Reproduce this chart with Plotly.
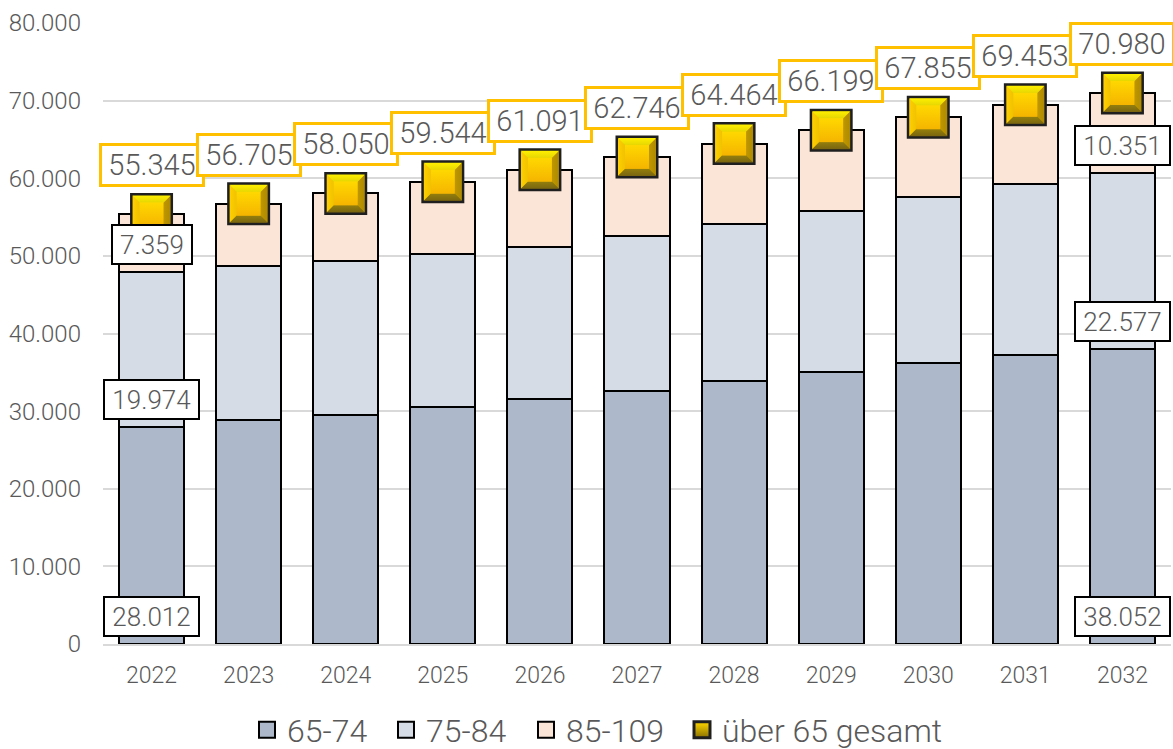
import plotly.graph_objects as go

years = ["2022", "2023", "2024", "2025", "2026", "2027", "2028", "2029", "2030", "2031", "2032"]
age_65_74 = [28012, 28900, 29550, 30530, 31560, 32650, 33900, 35050, 36190, 37240, 38052]
age_75_84 = [19974, 19800, 19790, 19710, 19580, 19910, 20200, 20730, 21410, 22020, 22577]
age_85_109 = [7359, 8005, 8710, 9304, 9951, 10186, 10364, 10419, 10255, 10193, 10351]
total = [55345, 56705, 58050, 59544, 61091, 62746, 64464, 66199, 67855, 69453, 70980]
y_ticks = [0, 10000, 20000, 30000, 40000, 50000, 60000, 70000, 80000]

series = [
    ("65-74", age_65_74, "#adb9ca"),
    ("75-84", age_75_84, "#d6dce5"),
    ("85-109", age_85_109, "#fbe5d6"),
]
TEXT = "#595959"
FONT = "Roboto"


def fmt(v):
    return f"{v:,}".replace(",", ".")


def legend_at(left):
    # one legend per entry, the gaps in the original are tighter than plotly's
    return dict(orientation="h", xref="container", yref="container", x=left / 1173, xanchor="left",
                y=19 / 749, yanchor="middle",
                font=dict(family=FONT, size=32, color=TEXT, weight=300),
                bgcolor="rgba(0,0,0,0)")


fig = go.Figure()

for name, values, color in series:
    fig.add_trace(go.Bar(x=years, y=values, name=name, showlegend=False,
                         marker=dict(color=color, line=dict(color="black", width=2))))

# legend swatches, bar swatches are too small otherwise
for (name, values, color), leg in zip(series, ["legend", "legend2", "legend3"]):
    fig.add_trace(go.Scatter(x=[None], y=[None], mode="markers", name=name, legend=leg,
                             marker=dict(symbol="square", size=16, color=color,
                                         line=dict(color="black", width=2))))

# bevelled gold square, built from stacked markers
fig.add_trace(go.Scatter(x=years, y=total, mode="markers", name="über 65 gesamt", legend="legend4",
                         marker=dict(symbol="square", size=40, color="#ffd800",
                                     gradient=dict(type="vertical", color="#8a7000"),
                                     line=dict(color="#1f1f1f", width=3))))
fig.add_trace(go.Scatter(x=years, y=total, mode="markers", showlegend=False,
                         marker=dict(symbol="bowtie", size=38, color="#ffcf00",
                                     gradient=dict(type="horizontal", color="#b08a00"), line=dict(width=0))))
fig.add_trace(go.Scatter(x=years, y=total, mode="markers", showlegend=False,
                         marker=dict(symbol="hourglass", size=38, color="#fff000",
                                     gradient=dict(type="vertical", color="#7a6510"), line=dict(width=0))))
fig.add_trace(go.Scatter(x=years, y=total, mode="markers", showlegend=False,
                         marker=dict(symbol="square", size=24, color="#ffd800",
                                     gradient=dict(type="vertical", color="#f5b400"), line=dict(width=0))))

# boxed value labels, category axis annotations go by index
for values, bases in [(age_65_74, [0] * 11), (age_75_84, age_65_74),
                      (age_85_109, [a + b for a, b in zip(age_65_74, age_75_84)])]:
    for i in (0, 10):
        fig.add_annotation(x=i, y=bases[i], text=fmt(values[i]), showarrow=False,
                           yanchor="bottom", yshift=7, width=93 if values[i] >= 10000 else 78, height=37,
                           bgcolor="white", bordercolor="black", borderwidth=2, borderpad=0,
                           font=dict(family=FONT, size=26, color=TEXT, weight=300))

for i, v in enumerate(total):
    fig.add_annotation(x=i, y=v, text=fmt(v), showarrow=False,
                       yanchor="bottom", yshift=27, width=100, height=38,
                       bgcolor="white", bordercolor="#ffc000", borderwidth=3, borderpad=0,
                       font=dict(family=FONT, size=29, color=TEXT, weight=300))

fig.update_layout(
    width=1173, height=749,
    barmode="stack", bargap=0.33,
    separators=",.",
    plot_bgcolor="white", paper_bgcolor="white",
    margin=dict(l=102.5, r=1.5, t=23, b=105),
    font=dict(family=FONT, color=TEXT, weight=300),
    legend=legend_at(247),
    legend2=legend_at(386),
    legend3=legend_at(526),
    legend4=legend_at(682),
)
fig.update_xaxes(type="category", categoryorder="array", categoryarray=years, range=[-0.5, 10.5],
                 showline=True, linecolor="#d9d9d9", linewidth=2, showgrid=False,
                 ticks="", ticklabelstandoff=9,
                 tickfont=dict(family=FONT, size=23, color=TEXT, weight=300))
fig.update_yaxes(range=[0, 80000], tickvals=y_ticks, tickformat=",d", gridcolor="#d9d9d9", gridwidth=2,
                 zeroline=False, showline=False, ticks="", ticklabelstandoff=21,
                 tickfont=dict(family=FONT, size=24, color=TEXT, weight=300))

fig.write_html("out.html", config=dict(displayModeBar=False),
               post_script="document.body.style.margin='0';")
